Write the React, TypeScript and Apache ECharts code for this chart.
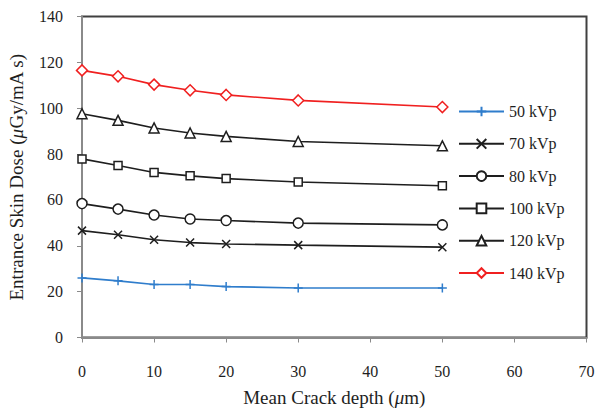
import React, { useEffect, useRef } from "react";
import * as echarts from "echarts";

const depths = [0, 5, 10, 15, 20, 30, 50];
const kv50 = [26.0, 24.7, 23.1, 23.1, 22.2, 21.6, 21.6];
const kv70 = [46.6, 44.8, 42.6, 41.4, 40.8, 40.3, 39.4];
const kv80 = [58.4, 56.0, 53.4, 51.7, 51.0, 49.9, 49.1];
const kv100 = [77.9, 75.0, 72.0, 70.5, 69.3, 67.8, 66.2];
const kv120 = [97.6, 94.7, 91.4, 89.2, 87.7, 85.5, 83.6];
const kv140 = [116.5, 113.9, 110.3, 107.8, 105.8, 103.4, 100.5];
const seriesNames = ["50 kVp", "70 kVp", "80 kVp", "100 kVp", "120 kVp", "140 kVp"];

const FONT = "'Liberation Serif', 'DejaVu Serif', serif";
const BLACK = "#1e1e1e";

export default function App() {
  const ref = useRef<HTMLDivElement>(null);
  useEffect(() => {
    if (!ref.current) return;
    const chart = echarts.init(ref.current, undefined, { renderer: "svg" });
    const pair = (ys: number[]) => depths.map((x, i) => [x, ys[i]]);
    const mk = (
      name: string,
      ys: number[],
      color: string,
      symbol: string,
      size: number
    ) => ({
      name,
      type: "line",
      data: pair(ys),
      symbol,
      symbolSize: size,
      showAllSymbol: true,
      lineStyle: { color, width: 1.6 },
      itemStyle: { color: "#ffffff", borderColor: color, borderWidth: 1.5 },
      emphasis: { disabled: true },
    });
    const plus = "path://M5,0L5,10M0,5L10,5";
    const cross = "path://M0,0L10,10M0,10L10,0";
    chart.setOption({
      animation: false,
      backgroundColor: "#ffffff",
      textStyle: { fontFamily: FONT },
      grid: {
        left: 82,
        top: 16.5,
        right: 11.5,
        bottom: 71.5,
        containLabel: false,
        outerBoundsMode: "none",
        show: true,
        borderColor: "#404040",
        borderWidth: 2,
        backgroundColor: "transparent",
      },
      legend: {
        orient: "vertical",
        left: 453,
        top: 98.5,
        itemWidth: 45,
        itemHeight: 12,
        itemGap: 16.3,
        textStyle: { fontFamily: FONT, fontSize: 16, color: BLACK },
        data: seriesNames,
      },
      xAxis: {
        type: "value",
        min: 0,
        max: 70,
        interval: 10,
        splitLine: { show: false },
        axisLine: { show: true, lineStyle: { color: "#8a8a8a", width: 2 } },
        axisTick: { show: true, inside: false, length: 5, lineStyle: { color: "#8a8a8a", width: 1 } },
        axisLabel: { fontFamily: FONT, fontSize: 16, color: BLACK, margin: 26 },
        name: "Mean Crack depth ({i|μ}m)",
        nameLocation: "middle",
        nameGap: 50,
        nameTextStyle: {
          fontFamily: FONT,
          fontSize: 19,
          color: BLACK,
          rich: { i: { fontFamily: FONT, fontSize: 19, fontStyle: "italic", color: BLACK } },
        },
      },
      yAxis: {
        type: "value",
        min: 0,
        max: 140,
        interval: 20,
        splitLine: { show: false },
        axisLine: { show: true, lineStyle: { color: "#8a8a8a", width: 2 } },
        axisTick: { show: true, inside: false, length: 5, lineStyle: { color: "#8a8a8a", width: 1 } },
        axisLabel: { fontFamily: FONT, fontSize: 16, color: BLACK, margin: 19 },
        name: "Entrance Skin Dose ({i|μ}Gy/mA s)",
        nameLocation: "middle",
        nameGap: 56,
        nameTextStyle: {
          fontFamily: FONT,
          fontSize: 19,
          color: BLACK,
          rich: { i: { fontFamily: FONT, fontSize: 19, fontStyle: "italic", color: BLACK } },
        },
      },
      series: [
        mk(seriesNames[0], kv50, "#2f7dcc", plus, 9),
        mk(seriesNames[1], kv70, BLACK, cross, 8),
        mk(seriesNames[2], kv80, BLACK, "circle", 10),
        mk(seriesNames[3], kv100, BLACK, "rect", 8),
        mk(seriesNames[4], kv120, BLACK, "triangle", 10),
        mk(seriesNames[5], kv140, "#f02020", "diamond", 11),
      ],
    });
    return () => chart.dispose();
  }, []);
  return <div ref={ref} style={{ width: 598, height: 409, position: "absolute", left: 0, top: 0 }} />;
}
